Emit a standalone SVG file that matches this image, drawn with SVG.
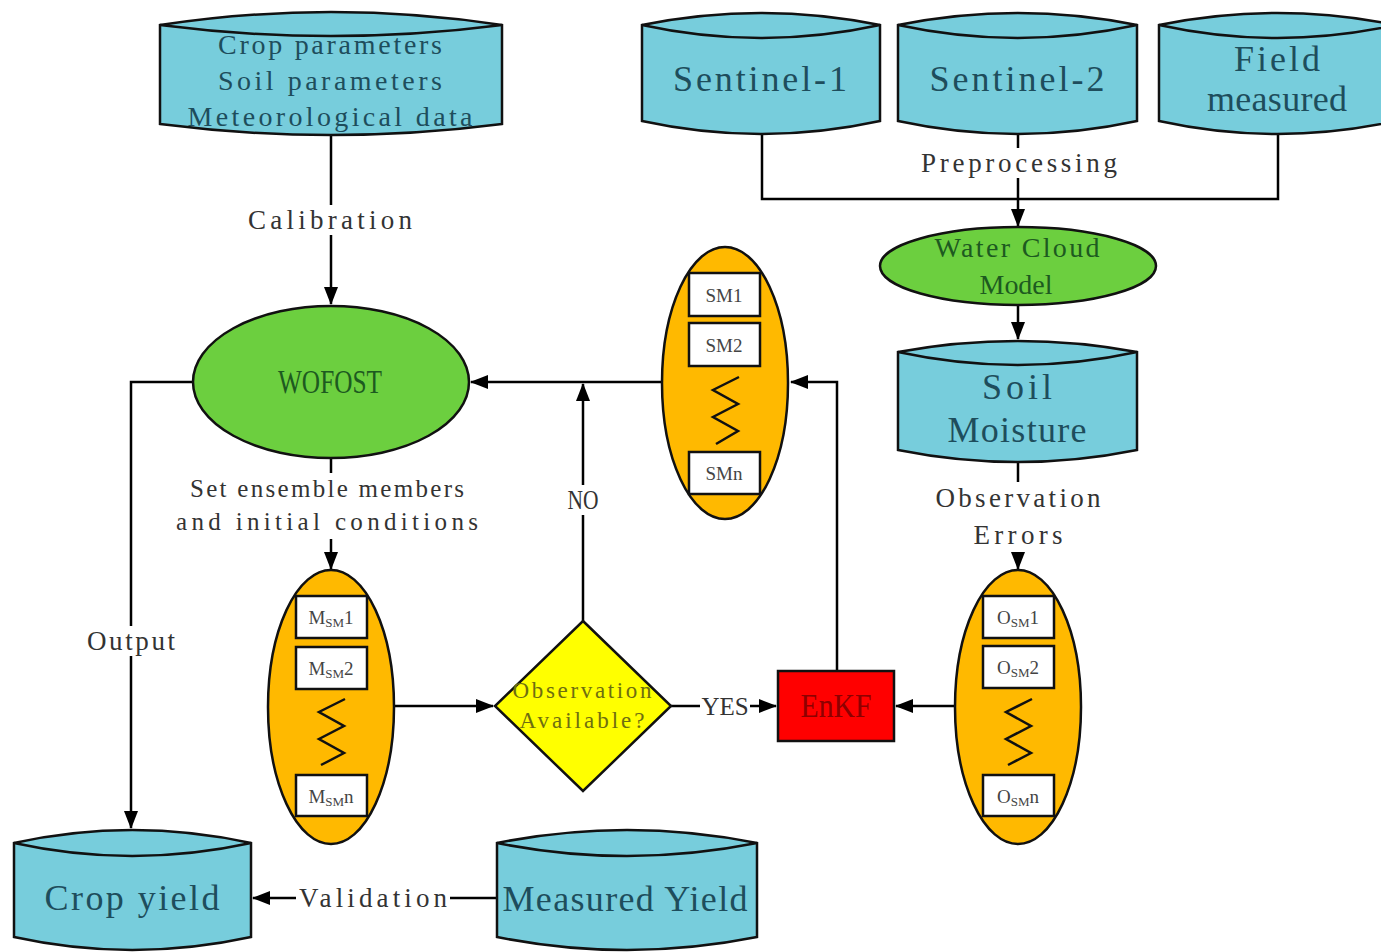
<svg xmlns="http://www.w3.org/2000/svg" width="1381" height="952" viewBox="0 0 1381 952">
<defs>
<marker id="ah" markerUnits="userSpaceOnUse" markerWidth="18" markerHeight="14" refX="17" refY="7" orient="auto">
<path d="M0,0 L18,7 L0,14 Z" fill="#000"/>
</marker>
</defs>
<style>
.cyl{fill:#77CDDC;stroke:#111;stroke-width:2.5}
.lens{fill:none;stroke:#111;stroke-width:2.5}
.green{fill:#6CCF3F;stroke:#111;stroke-width:2.5}
.orange{fill:#FFB900;stroke:#111;stroke-width:2.5}
.box{fill:#fff;stroke:#111;stroke-width:2.5}
.zig{fill:none;stroke:#111;stroke-width:2.5;stroke-linejoin:miter}
.line{fill:none;stroke:#000;stroke-width:2.5}
.t{font-family:"Liberation Serif",serif;text-anchor:middle}
.ct{fill:#1E4D5C;font-size:36px}
.ct2{fill:#1E4D5C;font-size:28px}
.lbl{fill:#333;font-size:27px}
.gt{fill:#1D5A20}
.bt{font-family:"Liberation Serif",serif;font-size:19px;fill:#444;text-anchor:middle}
.bg{fill:#fff}
</style>

<g id="connectors">
<path class="line" d="M331,135 V304" marker-end="url(#ah)"/>
<path class="line" d="M762,133 V199 H1278 V133"/>
<path class="line" d="M1018,135 V226" marker-end="url(#ah)"/>
<path class="line" d="M1018,305 V339" marker-end="url(#ah)"/>
<path class="line" d="M1018,462 V569" marker-end="url(#ah)"/>
<path class="line" d="M331,458 V569" marker-end="url(#ah)"/>
<path class="line" d="M193,382 H131 V828" marker-end="url(#ah)"/>
<path class="line" d="M662,382 H471" marker-end="url(#ah)"/>
<path class="line" d="M583,621 V384" marker-end="url(#ah)"/>
<path class="line" d="M395,706 H493" marker-end="url(#ah)"/>
<path class="line" d="M671,706 H776" marker-end="url(#ah)"/>
<path class="line" d="M955,706 H896" marker-end="url(#ah)"/>
<path class="line" d="M837,671 V382 H791" marker-end="url(#ah)"/>
<path class="line" d="M497,898 H253" marker-end="url(#ah)"/>
<rect class="bg" x="246" y="205" width="170" height="30"/>
<rect class="bg" x="918" y="148" width="202" height="30"/>
<rect class="bg" x="930" y="482" width="176" height="70"/>
<rect class="bg" x="172" y="473" width="310" height="66"/>
<rect class="bg" x="84" y="626" width="94" height="30"/>
<rect class="bg" x="564" y="485" width="38" height="30"/>
<rect class="bg" x="700" y="692" width="50" height="28"/>
<rect class="bg" x="296" y="883" width="154" height="30"/>
<text class="t lbl" x="330" y="229" textLength="164" lengthAdjust="spacing">Calibration</text>
<text class="t lbl" x="1019" y="172" textLength="196" lengthAdjust="spacing">Preprocessing</text>
<text class="t lbl" x="1018" y="507" textLength="165" lengthAdjust="spacing">Observation</text>
<text class="t lbl" x="1018" y="544" textLength="89" lengthAdjust="spacing">Errors</text>
<text class="t lbl" x="327" y="497" style="font-size:25px" textLength="274" lengthAdjust="spacing">Set ensemble members</text>
<text class="t lbl" x="327" y="530" style="font-size:25px" textLength="302" lengthAdjust="spacing">and initial conditions</text>
<text class="t lbl" x="131" y="650" textLength="88" lengthAdjust="spacing">Output</text>
<text class="t lbl" x="583" y="509" textLength="31" lengthAdjust="spacingAndGlyphs">NO</text>
<text x="725" y="715" style="font-family:'Liberation Serif',serif;font-size:25px;fill:#333;text-anchor:middle">YES</text>
<text class="t lbl" x="373" y="907" textLength="148" lengthAdjust="spacing">Validation</text>
</g>

<g id="inputs">
<path class="cyl" d="M160,25 Q331,-1 502,25 L502,124 Q331,146 160,124 Z"/>
<path class="lens" d="M160,25 Q331,47 502,25"/>
<text class="t ct2" x="330" y="54" textLength="224" lengthAdjust="spacing">Crop parameters</text>
<text class="t ct2" x="330" y="90" textLength="224" lengthAdjust="spacing">Soil parameters</text>
<text class="t ct2" x="330" y="126" textLength="285" lengthAdjust="spacing">Meteorological data</text>
</g>

<g id="sentinel1">
<path class="cyl" d="M642,25 Q761,1 880,25 L880,121 Q761,147 642,121 Z"/>
<path class="lens" d="M642,25 Q761,51 880,25"/>
<text class="t ct" x="760" y="91" textLength="174" lengthAdjust="spacing">Sentinel-1</text>
</g>

<g id="sentinel2">
<path class="cyl" d="M898,25 Q1018,1 1137,25 L1137,121 Q1018,147 898,121 Z"/>
<path class="lens" d="M898,25 Q1018,51 1137,25"/>
<text class="t ct" x="1017" y="91" textLength="175" lengthAdjust="spacing">Sentinel-2</text>
</g>

<g id="field">
<path class="cyl" d="M1159,25 Q1277,1 1396,25 L1396,121 Q1277,147 1159,121 Z"/>
<path class="lens" d="M1159,25 Q1277,51 1396,25"/>
<text class="t ct" x="1277" y="71" textLength="86" lengthAdjust="spacing">Field</text>
<text class="t ct" x="1277" y="111" textLength="140" lengthAdjust="spacing">measured</text>
</g>

<g id="watercloud">
<ellipse class="green" cx="1018" cy="266" rx="138" ry="39"/>
<text class="t gt" x="1017" y="257" style="font-size:28px" textLength="165" lengthAdjust="spacing">Water Cloud</text>
<text class="t gt" x="1016" y="294" style="font-size:28px" textLength="73" lengthAdjust="spacing">Model</text>
</g>

<g id="soilmoisture">
<path class="cyl" d="M898,352 Q1018,330 1137,352 L1137,450 Q1018,474 898,450 Z"/>
<path class="lens" d="M898,352 Q1018,378 1137,352"/>
<text class="t ct" x="1017" y="399" textLength="70" lengthAdjust="spacing">Soil</text>
<text class="t ct" x="1017" y="442" textLength="139" lengthAdjust="spacing">Moisture</text>
</g>

<g id="wofost">
<ellipse class="green" cx="331" cy="382" rx="138" ry="76"/>
<text class="t gt" x="330" y="393" style="font-size:34px" textLength="104" lengthAdjust="spacingAndGlyphs">WOFOST</text>
</g>

<g id="sm-ensemble">
<ellipse class="orange" cx="725" cy="383" rx="63" ry="136"/>
<rect class="box" x="689" y="273" width="71" height="43"/>
<rect class="box" x="689" y="323" width="71" height="43"/>
<path class="zig" d="M739,377 L713,390 L738,404 L713,417 L738,431 L716,444"/>
<rect class="box" x="689" y="452" width="71" height="42"/>
<text class="bt" x="724" y="302">SM1</text>
<text class="bt" x="724" y="352">SM2</text>
<text class="bt" x="724" y="480">SMn</text>
</g>

<g id="m-ensemble">
<ellipse class="orange" cx="331" cy="707" rx="63" ry="137"/>
<rect class="box" x="296" y="596" width="71" height="42"/>
<rect class="box" x="296" y="647" width="71" height="42"/>
<path class="zig" d="M345,699 L319,712 L344,726 L319,739 L344,753 L321,765"/>
<rect class="box" x="296" y="775" width="71" height="41"/>
<text class="bt" x="331" y="624">M<tspan font-size="13" dy="3">SM</tspan><tspan dy="-3">1</tspan></text>
<text class="bt" x="331" y="675">M<tspan font-size="13" dy="3">SM</tspan><tspan dy="-3">2</tspan></text>
<text class="bt" x="331" y="803">M<tspan font-size="13" dy="3">SM</tspan><tspan dy="-3">n</tspan></text>
</g>

<g id="o-ensemble">
<ellipse class="orange" cx="1018" cy="707" rx="63" ry="137"/>
<rect class="box" x="983" y="596" width="71" height="42"/>
<rect class="box" x="983" y="646" width="71" height="42"/>
<path class="zig" d="M1032,699 L1006,712 L1031,726 L1006,739 L1031,753 L1008,765"/>
<rect class="box" x="983" y="775" width="71" height="41"/>
<text class="bt" x="1018" y="624">O<tspan font-size="13" dy="3">SM</tspan><tspan dy="-3">1</tspan></text>
<text class="bt" x="1018" y="674">O<tspan font-size="13" dy="3">SM</tspan><tspan dy="-3">2</tspan></text>
<text class="bt" x="1018" y="803">O<tspan font-size="13" dy="3">SM</tspan><tspan dy="-3">n</tspan></text>
</g>

<g id="decision">
<path d="M583,621 L671,706 L583,791 L495,706 Z" fill="#FFFF00" stroke="#111" stroke-width="2.5"/>
<text class="t" x="582" y="698" style="font-size:23px;fill:#6E6E10" textLength="139" lengthAdjust="spacing">Observation</text>
<text class="t" x="582" y="728" style="font-size:23px;fill:#6E6E10" textLength="125" lengthAdjust="spacing">Available?</text>
</g>

<g id="enkf">
<rect x="778" y="671" width="116" height="70" fill="#FF0000" stroke="#111" stroke-width="2.5"/>
<text class="t" x="836" y="717" style="font-size:34px;fill:#8E0000" textLength="71" lengthAdjust="spacingAndGlyphs">EnKF</text>
</g>

<g id="cropyield">
<path class="cyl" d="M14,843 Q132,817 251,843 L251,937 Q132,963 14,937 Z"/>
<path class="lens" d="M14,843 Q132,869 251,843"/>
<text class="t ct" x="132" y="910" textLength="175" lengthAdjust="spacing">Crop yield</text>
</g>

<g id="measuredyield">
<path class="cyl" d="M497,843 Q627,817 757,843 L757,937 Q627,963 497,937 Z"/>
<path class="lens" d="M497,843 Q627,869 757,843"/>
<text class="t ct" x="625" y="911" textLength="245" lengthAdjust="spacing">Measured Yield</text>
</g>
</svg>
